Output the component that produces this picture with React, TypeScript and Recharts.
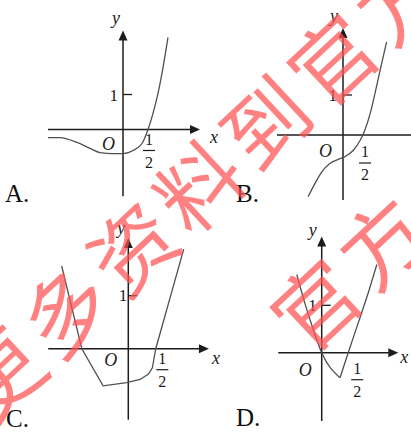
import React from 'react';
import { LineChart, Line, XAxis, YAxis, ReferenceLine, ReferenceDot } from 'recharts';

// curves (x, y in axis units)
const curveA = [
  { x: -1.5, y: -0.23 }, { x: -1.26, y: -0.23 }, { x: -0.92, y: -0.37 },
  { x: -0.66, y: -0.54 }, { x: -0.46, y: -0.66 }, { x: -0.2, y: -0.69 },
  { x: 0, y: -0.69 }, { x: 0.2, y: -0.6 }, { x: 0.38, y: -0.4 },
  { x: 0.5, y: 0 }, { x: 0.6, y: 0.46 }, { x: 0.7, y: 1.03 },
  { x: 0.8, y: 1.77 }, { x: 0.9, y: 2.63 },
];

const curveB = [
  { x: -0.87, y: -1.54 }, { x: -0.7, y: -1.21 }, { x: -0.53, y: -0.92 },
  { x: -0.33, y: -0.71 }, { x: -0.12, y: -0.61 }, { x: 0.05, y: -0.54 },
  { x: 0.26, y: -0.38 }, { x: 0.43, y: -0.13 }, { x: 0.55, y: 0.13 },
  { x: 0.68, y: 0.54 }, { x: 0.8, y: 1.04 }, { x: 0.93, y: 1.63 },
  { x: 1.09, y: 2.33 },
];

const curveC = [
  { x: -1.19, y: 1.56 }, { x: -0.83, y: 0 }, { x: -0.45, y: -0.7 },
  { x: -0.03, y: -0.64 }, { x: 0.21, y: -0.58 }, { x: 0.36, y: -0.48 },
  { x: 0.43, y: -0.36 }, { x: 0.49, y: 0 }, { x: 0.99, y: 1.88 },
];

const curveDLeft = [
  { x: -0.47, y: 1.65 }, { x: -0.32, y: 1.05 }, { x: -0.16, y: 0.49 },
  { x: 0, y: 0 }, { x: 0.345, y: -0.53 },
];
const curveDRight = [
  { x: 0.345, y: -0.53 }, { x: 0.5, y: 0 }, { x: 0.69, y: 0.63 },
  { x: 0.88, y: 1.27 }, { x: 1.04, y: 1.86 },
];

const optionLabels = ['A.', 'B.', 'C.', 'D.'];
const axisNames = ['x', 'y'];
const originName = 'O';
const unitTick = 1;
const halfTick = 0.5;
const halfNum = '1';
const halfDen = '2';
const watermarkLines = ['更多资料到官方', '官方'];

const INK = '#1c1c1c';
const CURVE = '#505050';
const SERIF = '"Liberation Serif", "Times New Roman", serif';

type Off = [number, number];
interface PanelCfg {
  left: number; top: number; width: number; height: number;
  ox: number; oy: number; ux: number; uy: number;
  xSpan: [number, number]; ySpan: [number, number];
  xArrow: boolean;
  yLbl: Off; xLbl: Off; oneLbl: Off; oLbl: Off; half: Off;
  letter: Off;
}

const panels: PanelCfg[] = [
  {
    left: 40, top: 0, width: 190, height: 212, ox: 123, oy: 129.5, ux: 50, uy: 35,
    xSpan: [-1.5, 1.54], ySpan: [-1.91, 2.83], xArrow: true,
    yLbl: [-3, -6], xLbl: [10, 13], oneLbl: [-5, 6], oLbl: [-8, 20], half: [1, 15],
    letter: [5, 203],
  },
  {
    left: 236, top: 0, width: 175, height: 212, ox: 343, oy: 135, ux: 40, uy: 40,
    xSpan: [-1.65, 1.7], ySpan: [-1.625, 2.675], xArrow: false,
    yLbl: [-5, -6], xLbl: [10, 13], oneLbl: [-6, 6], oLbl: [-11, 22], half: [2, 22],
    letter: [236, 203],
  },
  {
    left: 40, top: 216, width: 190, height: 216, ox: 128.3, oy: 348.7, ux: 56, uy: 53,
    xSpan: [-1.43, 1.44], ySpan: [-1.34, 2.09], xArrow: true,
    yLbl: [-3, -4], xLbl: [3, 15], oneLbl: [-1, 5], oLbl: [-11, 17], half: [6, 15],
    letter: [6, 428],
  },
  {
    left: 240, top: 216, width: 171, height: 216, ox: 321.7, oy: 352.7, ux: 53, uy: 47.4,
    xSpan: [-0.82, 1.445], ySpan: [-1.44, 2.45], xArrow: true,
    yLbl: [-5, -1], xLbl: [2, 10], oneLbl: [-5, 6], oLbl: [-10, 23], half: [9, 21],
    letter: [236, 427],
  },
];

// watermark: first glyph centre and step along the slanted line
const marks = [
  { x0: -4, y0: 371, text: watermarkLines[0] },
  { x0: 313, y0: 302, text: watermarkLines[1] },
];
const markStep = { dx: 66.75, dy: -62.75 };

const axisShape = (arrow: boolean) => (p: any) => {
  const { x1, y1, x2, y2 } = p;
  const a = Math.atan2(y2 - y1, x2 - x1);
  const len = 10;
  const hw = 4.5;
  const bx = x2 - len * Math.cos(a);
  const by = y2 - len * Math.sin(a);
  const nx = -Math.sin(a) * hw;
  const ny = Math.cos(a) * hw;
  return (
    <g>
      <line x1={x1} y1={y1} x2={arrow ? bx + Math.cos(a) : x2} y2={arrow ? by + Math.sin(a) : y2}
        stroke={INK} strokeWidth={1.5} />
      {arrow && (
        <polygon points={`${x2},${y2} ${bx + nx},${by + ny} ${bx - nx},${by - ny}`} fill={INK} />
      )}
    </g>
  );
};

const label = (text: string, off: Off, italic: boolean, anchor: 'start' | 'end' | 'middle', size = 18) =>
  (p: any) => (
    <text x={p.cx + off[0]} y={p.cy + off[1]} textAnchor={anchor} fontFamily={SERIF}
      fontStyle={italic ? 'italic' : 'normal'} fontSize={size} fill={INK}>
      {text}
    </text>
  );

const oneShape = (off: Off) => (p: any) => (
  <g>
    <line x1={p.cx} y1={p.cy} x2={p.cx + 9} y2={p.cy} stroke={INK} strokeWidth={1.3} />
    <text x={p.cx + off[0]} y={p.cy + off[1]} textAnchor="end" fontFamily={SERIF} fontSize={17} fill={INK}>
      {String(unitTick)}
    </text>
  </g>
);

const halfShape = (off: Off) => (p: any) => {
  const cx = p.cx + off[0];
  const top = p.cy + off[1];
  return (
    <g fontFamily={SERIF} fontSize={16} fill={INK} textAnchor="middle">
      <text x={cx} y={top}>{halfNum}</text>
      <line x1={cx - 6} y1={top + 6} x2={cx + 6} y2={top + 6} stroke={INK} strokeWidth={1.2} />
      <text x={cx} y={top + 23}>{halfDen}</text>
    </g>
  );
};

const Panel = ({ cfg, curves, type }: { cfg: PanelCfg; curves: { x: number; y: number }[][]; type: any }) => {
  const xDomain = [(cfg.left - cfg.ox) / cfg.ux, (cfg.left + cfg.width - cfg.ox) / cfg.ux];
  const yDomain = [(cfg.oy - cfg.top - cfg.height) / cfg.uy, (cfg.oy - cfg.top) / cfg.uy];
  return (
    <div style={{ position: 'absolute', left: cfg.left, top: cfg.top }}>
      <LineChart width={cfg.width} height={cfg.height} margin={{ top: 0, right: 0, bottom: 0, left: 0 }}>
        <XAxis type="number" dataKey="x" domain={xDomain} hide allowDataOverflow height={0} />
        <YAxis type="number" dataKey="y" domain={yDomain} hide allowDataOverflow width={0} />
        <ReferenceLine segment={[{ x: cfg.xSpan[0], y: 0 }, { x: cfg.xSpan[1], y: 0 }]}
          shape={axisShape(cfg.xArrow)} ifOverflow="visible" />
        <ReferenceLine segment={[{ x: 0, y: cfg.ySpan[0] }, { x: 0, y: cfg.ySpan[1] }]}
          shape={axisShape(true)} ifOverflow="visible" />
        {curves.map((c, i) => (
          <Line key={i} data={c} dataKey="y" type={type} stroke={CURVE} strokeWidth={1.3}
            dot={false} isAnimationActive={false} />
        ))}
        <ReferenceDot x={0} y={cfg.ySpan[1]} r={0} ifOverflow="visible"
          shape={label(axisNames[1], cfg.yLbl, true, 'end')} />
        {cfg.xArrow && (
          <ReferenceDot x={cfg.xSpan[1]} y={0} r={0} ifOverflow="visible"
            shape={label(axisNames[0], cfg.xLbl, true, 'start')} />
        )}
        <ReferenceDot x={0} y={unitTick} r={0} ifOverflow="visible" shape={oneShape(cfg.oneLbl)} />
        <ReferenceDot x={0} y={0} r={0} ifOverflow="visible"
          shape={label(originName, cfg.oLbl, true, 'end')} />
        <ReferenceDot x={halfTick} y={0} r={0} ifOverflow="visible" shape={halfShape(cfg.half)} />
      </LineChart>
    </div>
  );
};

export default function App() {
  return (
    <div style={{ position: 'absolute', left: 0, top: 0, width: 411, height: 432, background: '#fff', overflow: 'hidden' }}>
      <Panel cfg={panels[0]} curves={[curveA]} type="monotone" />
      <Panel cfg={panels[1]} curves={[curveB]} type="monotone" />
      <Panel cfg={panels[2]} curves={[curveC]} type="linear" />
      <Panel cfg={panels[3]} curves={[curveDLeft, curveDRight]} type="monotone" />
      {panels.map((p, i) => (
        <div key={i} style={{
          position: 'absolute', left: p.letter[0], top: p.letter[1] - 22,
          fontFamily: SERIF, fontSize: 25, lineHeight: '25px', color: '#111',
        }}>
          {optionLabels[i]}
        </div>
      ))}
      <svg width={411} height={432} style={{ position: 'absolute', left: 0, top: 0, pointerEvents: 'none' }}>
        <g fontFamily='"Noto Sans CJK SC", sans-serif' fontSize={84} fill="rgb(255,80,80)" fillOpacity={0.72}
          textAnchor="middle" dominantBaseline="central">
          {marks.map((m, j) =>
            Array.from(m.text).map((ch, i) => {
              const cx = m.x0 + i * markStep.dx;
              const cy = m.y0 + i * markStep.dy;
              return (
                <text key={`${j}-${i}`} x={cx} y={cy} transform={`rotate(-43 ${cx} ${cy})`}>
                  {ch}
                </text>
              );
            }),
          )}
        </g>
      </svg>
    </div>
  );
}
